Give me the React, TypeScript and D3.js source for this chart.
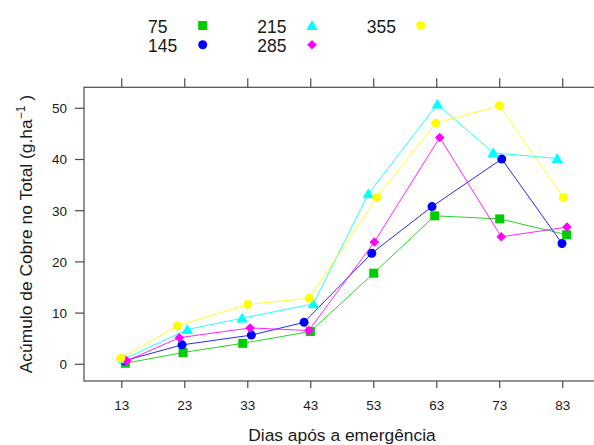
import React from "react";
import * as d3 from "d3";

const days = [13, 23, 33, 43, 53, 63, 73, 83];
const yTicks = [0, 10, 20, 30, 40, 50];
const doses = ["75", "145", "215", "285", "355"];
const colors = ["#00CC00", "#0000FF", "#00FFFF", "#FF00FF", "#FFFF00"];
const shapes = ["square", "circle", "triangle", "diamond", "circle"];

// values (g/ha) per dose
const v75 = [0.2, 2.3, 4.1, 6.4, 17.8, 29.0, 28.4, 25.3];
const v145 = [0.7, 3.8, 5.7, 8.2, 21.7, 30.8, 40.1, 23.6];
const v215 = [1.0, 6.8, 9.0, 11.8, 33.3, 50.8, 41.3, 40.2];
const v285 = [0.7, 5.2, 7.1, 6.6, 23.9, 44.3, 24.9, 26.8];
const v355 = [1.2, 7.5, 11.7, 12.9, 32.6, 47.1, 50.5, 32.6];

// jittered day positions as plotted
const x75 = [13.57, 22.73, 32.21, 42.94, 53.0, 62.68, 73.0, 83.63];
const x145 = [13.4, 22.57, 33.57, 41.94, 52.68, 62.25, 73.32, 82.89];
const x215 = [13.3, 23.41, 32.1, 43.41, 52.14, 63.1, 71.98, 82.14];
const x285 = [13.79, 22.14, 33.37, 42.68, 53.1, 63.48, 73.25, 83.68];
const x355 = [12.84, 21.83, 33.0, 42.78, 53.48, 62.84, 72.94, 83.1];

const values = [v75, v145, v215, v285, v355];
const xs = [x75, x145, x215, x285, x355];

const FONT = "'Liberation Sans', Arial, sans-serif";

function Marker({ shape, cx, cy, color }: { shape: string; cx: number; cy: number; color: string }) {
  if (shape === "square") {
    return <rect x={cx - 4.5} y={cy - 4.5} width={9} height={9} fill={color} />;
  }
  if (shape === "circle") {
    return <circle cx={cx} cy={cy} r={4.5} fill={color} />;
  }
  if (shape === "triangle") {
    const s = 5.5;
    return (
      <path
        d={`M${cx},${cy - s} L${cx + s * 1.05},${cy + s * 0.8} L${cx - s * 1.05},${cy + s * 0.8} Z`}
        fill={color}
      />
    );
  }
  const s = 4.8;
  return <path d={`M${cx},${cy - s} L${cx + s},${cy} L${cx},${cy + s} L${cx - s},${cy} Z`} fill={color} />;
}

export default function App() {
  const x = d3.scaleLinear().domain([7, 89]).range([84, 600.5]);
  const y = d3.scaleLinear().domain([0, 50]).range([364.3, 108.3]);
  const top = 87.3;
  const bottom = 381;
  const left = 84;
  const right = 600.5;
  const axisColor = "#4a4a4a";

  const line = d3
    .line<[number, number]>()
    .x((d) => x(d[0]))
    .y((d) => y(d[1]));

  // legend layout: column-major, 2 rows
  const legendCols = [148, 257.3, 366.7];
  const legendMarkX = [202.7, 312, 420.7];
  const legendRows = [33.3, 51.7];
  const legendMarkY = [25.5, 44.8];

  return (
    <svg
      width={594}
      height={445}
      style={{ position: "absolute", left: 0, top: 0, background: "#fff" }}
      fontFamily={FONT}
    >
      <rect x={0} y={0} width={594} height={445} fill="#fff" />
      {/* legend */}
      {doses.map((d, i) => {
        const col = Math.floor(i / 2);
        const row = i % 2;
        return (
          <g key={d}>
            <text x={legendCols[col]} y={legendRows[row]} fontSize={17.5} fill="#1a1a1a">
              {d}
            </text>
            <Marker shape={shapes[i]} cx={legendMarkX[col]} cy={legendMarkY[row]} color={colors[i]} />
          </g>
        );
      })}

      {/* panel box */}
      <rect x={left} y={top} width={right - left} height={bottom - top} fill="none" stroke={axisColor} strokeWidth={1.2} />

      {/* x ticks */}
      {days.map((d) => (
        <g key={d}>
          <line x1={x(d)} x2={x(d)} y1={bottom} y2={bottom + 7} stroke={axisColor} strokeWidth={1.2} />
          <line x1={x(d)} x2={x(d)} y1={top} y2={top - 9} stroke={axisColor} strokeWidth={1.2} />
          <text x={x(d)} y={410} textAnchor="middle" fontSize={13.5} fill="#1a1a1a">
            {d}
          </text>
        </g>
      ))}

      {/* y ticks */}
      {yTicks.map((t) => (
        <g key={t}>
          <line x1={left - 9} x2={left} y1={y(t)} y2={y(t)} stroke={axisColor} strokeWidth={1.2} />
          <text x={67} y={y(t) + 4.8} textAnchor="end" fontSize={13.5} fill="#1a1a1a">
            {t}
          </text>
        </g>
      ))}

      {/* axis titles */}
      <text x={342} y={441} textAnchor="middle" fontSize={17.4} fill="#1a1a1a">
        Dias após a emergência
      </text>
      <text
        transform={`translate(32, ${(top + bottom) / 2}) rotate(-90)`}
        textAnchor="middle"
        fontSize={17.4}
        fill="#1a1a1a"
      >
        Acúmulo de Cobre no Total (g.ha
        <tspan dy={-7} fontSize={12}>
          −1
        </tspan>
        <tspan dy={7}> )</tspan>
      </text>

      {/* series */}
      {values.map((vals, i) => {
        const pts: [number, number][] = vals.map((v, j) => [xs[i][j], v]);
        return (
          <g key={doses[i]}>
            <path d={line(pts) || ""} fill="none" stroke={colors[i]} strokeWidth={1} opacity={0.85} />
            {pts.map((p, j) => (
              <Marker key={j} shape={shapes[i]} cx={x(p[0])} cy={y(p[1])} color={colors[i]} />
            ))}
          </g>
        );
      })}
    </svg>
  );
}
